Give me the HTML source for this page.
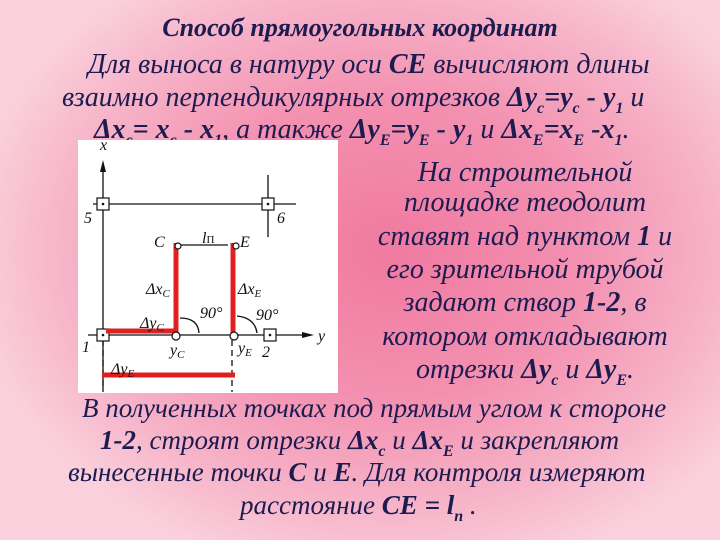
<!DOCTYPE html>
<html><head><meta charset="utf-8"><style>
body{margin:0;width:720px;height:540px;overflow:hidden;position:relative;
background:radial-gradient(ellipse 420px 330px at 390px 250px,#f07aa0 0%,#f390b0 45%,#f7b6ca 80%,#fad0dc 100%);
font-family:"Liberation Serif",serif;font-style:italic;color:#1c1c50;}
.l{position:absolute;white-space:nowrap;font-size:28px;line-height:30px;}
.s{font-size:27px;}
.c{text-align:center;}
b{font-weight:bold;}
sub{font-size:16px;vertical-align:-7px;line-height:0;font-weight:bold;}
</style></head><body>
<div class="l c" style="left:0;width:720px;top:13px;font-weight:bold;font-size:26px">Способ прямоугольных координат</div>
<div class="l" style="left:88px;top:50px">Для выноса в натуру оси <b>CE</b> вычисляют длины</div>
<div class="l" style="left:62px;top:83px">взаимно перпендикулярных отрезков <b>Δy</b><sub>c</sub><b>=y</b><sub>c</sub> <b>- y</b><sub>1</sub> и</div>
<div class="l" style="left:94px;top:115px"><b>Δx</b><sub>c</sub><b>= x</b><sub>c</sub> <b>- x</b><sub>1</sub>, а также <b>Δy</b><sub>E</sub><b>=y</b><sub>E</sub> <b>- y</b><sub>1</sub> и <b>Δx</b><sub>E</sub><b>=x</b><sub>E</sub> <b>-x</b><sub>1</sub>.</div>

<svg style="position:absolute;left:78px;top:140px" width="260" height="253" viewBox="78 140 260 253">
<rect x="78" y="140" width="260" height="253" fill="#fff"/>
<g stroke="#111" stroke-width="1.3" fill="none">
<line x1="103" y1="390" x2="103" y2="165"/>
<line x1="88" y1="335" x2="305" y2="335"/>
<line x1="93" y1="204" x2="296" y2="204"/>
<line x1="268" y1="175" x2="268" y2="237"/>
<line x1="181" y1="245" x2="228" y2="245"/>
<line x1="103" y1="340" x2="103" y2="392" stroke-dasharray="6,4"/>
<line x1="232" y1="340" x2="232" y2="392" stroke-dasharray="6,4"/>
<path d="M180 318 Q198 318 199 333"/>
<path d="M237 316 Q255 318 257 333"/>
</g>
<polygon points="103,160 100,172 106,172" fill="#111"/>
<polygon points="314,335 302,332 302,338" fill="#111"/>
<g fill="#fff" stroke="#111" stroke-width="1.2">
<rect x="97" y="198" width="12" height="12"/><rect x="262" y="198" width="12" height="12"/>
<rect x="97" y="329" width="12" height="12"/><rect x="264" y="329" width="12" height="12"/>
</g>
<g fill="#111"><circle cx="103" cy="204" r="1.3"/><circle cx="268" cy="204" r="1.3"/><circle cx="103" cy="335" r="1.3"/><circle cx="270" cy="335" r="1.3"/></g>
<g stroke="#e02020" stroke-width="5"><line x1="106" y1="331" x2="176" y2="331"/><line x1="176" y1="243" x2="176" y2="333"/><line x1="233" y1="243" x2="233" y2="333"/><line x1="102" y1="375" x2="235" y2="375"/></g>
<g fill="#fff" stroke="#111" stroke-width="1.2"><circle cx="178" cy="246" r="3"/><circle cx="236" cy="246" r="3"/><circle cx="176" cy="336" r="4"/><circle cx="234" cy="336" r="4"/></g>
<g font-family="Liberation Serif,serif" font-style="italic" font-size="16" fill="#111">
<text x="100" y="150">x</text><text x="84" y="223">5</text><text x="277" y="223">6</text>
<text x="154" y="247">C</text><text x="202" y="243">l<tspan font-size="11" font-style="normal">П</tspan></text><text x="240" y="247">E</text>
<text x="146" y="294">Δx<tspan font-size="11" dy="3">C</tspan></text><text x="238" y="294">Δx<tspan font-size="11" dy="3">E</tspan></text>
<text x="200" y="318">90°</text><text x="256" y="320">90°</text>
<text x="140" y="328">Δy<tspan font-size="11" dy="3">C</tspan></text>
<text x="82" y="352">1</text><text x="170" y="355">y<tspan font-size="11" dy="3">C</tspan></text><text x="238" y="353">y<tspan font-size="11" dy="3">E</tspan></text><text x="262" y="357">2</text><text x="318" y="341">y</text>
<text x="111" y="374">Δy<tspan font-size="11" dy="3">E</tspan></text>
</g></svg>

<div class="l c" style="left:370px;width:310px;top:158px">На строительной</div>
<div class="l c" style="left:370px;width:310px;top:188px">площадке теодолит</div>
<div class="l c" style="left:370px;width:310px;top:222px">ставят над пунктом <b>1</b> и</div>
<div class="l c" style="left:370px;width:310px;top:255px">его зрительной трубой</div>
<div class="l c" style="left:370px;width:310px;top:288px">задают створ <b>1-2</b>, в</div>
<div class="l c" style="left:370px;width:310px;top:322px">котором откладывают</div>
<div class="l c" style="left:370px;width:310px;top:355px">отрезки <b>Δy</b><sub>c</sub> и <b>Δy</b><sub>E</sub>.</div>

<div class="l s" style="left:82px;top:393px">В полученных точках под прямым углом к стороне</div>
<div class="l s" style="left:100px;top:425px"><b>1-2</b>, строят отрезки <b>Δx</b><sub>c</sub> и <b>Δx</b><sub>E</sub> и закрепляют</div>
<div class="l s" style="left:68px;top:457px">вынесенные точки <b>C</b> и <b>E</b>. Для контроля измеряют</div>
<div class="l s" style="left:240px;top:490px">расстояние <b>CE = l</b><sub>n</sub> .</div>
</body></html>
